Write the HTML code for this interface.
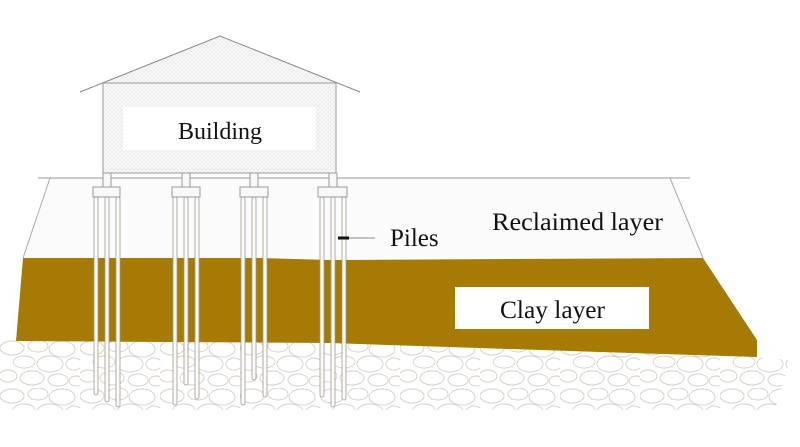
<!DOCTYPE html>
<html><head><meta charset="utf-8"><style>
html,body{margin:0;padding:0;background:#fff;}
svg{display:block;}
text{font-family:"Liberation Serif",serif;fill:#111;}
</style></head><body>
<svg width="800" height="447" viewBox="0 0 800 447" xmlns="http://www.w3.org/2000/svg">
<defs>
<pattern id="rock" x="0" y="340" width="80" height="48" patternUnits="userSpaceOnUse">
<g fill="none" stroke="#d6cec4" stroke-width="0.9">
<ellipse cx="12" cy="8" rx="12" ry="7"/>
<ellipse cx="38" cy="6" rx="10" ry="6"/>
<ellipse cx="62" cy="9" rx="13" ry="8"/>
<ellipse cx="24" cy="22" rx="11" ry="6"/>
<ellipse cx="50" cy="24" rx="13" ry="8"/>
<ellipse cx="74" cy="24" rx="8" ry="6"/>
<ellipse cx="8" cy="36" rx="9" ry="6"/>
<ellipse cx="32" cy="38" rx="12" ry="7"/>
<ellipse cx="58" cy="40" rx="10" ry="6"/>
<ellipse cx="76" cy="41" rx="7" ry="5"/>
</g>
</pattern>
<pattern id="hatch" width="4" height="4" patternUnits="userSpaceOnUse">
<rect width="4" height="4" fill="#fafafa"/>
<path d="M0 4L4 0M0 0L4 4" stroke="#e6e6e6" stroke-width="0.6"/>
</pattern>
</defs>
<path d="M0 340 L330 343 L600 352 L757 357 L790 360 L775 410 L0 410 Z" fill="url(#rock)"/>
<polygon points="50,178 670,178 703,258 23,258" fill="#fbfbfb"/>
<line x1="38" y1="178" x2="690" y2="178" stroke="#999" stroke-width="1"/>
<line x1="50" y1="178" x2="23" y2="258" stroke="#aaa" stroke-width="1"/>
<line x1="670" y1="178" x2="703" y2="258" stroke="#aaa" stroke-width="1"/>
<polygon points="23,258 260,258 330,260 703,258 757,340 757,357 600,352 330,343 16,341" fill="#a57a05"/>
<polygon points="80,92 220,36 360,92 336,83 103,83" fill="url(#hatch)"/>
<polyline points="80,92 220,36 360,92" fill="none" stroke="#888" stroke-width="1"/>
<rect x="103" y="83" width="233" height="90" fill="url(#hatch)" stroke="#999" stroke-width="1"/>
<rect x="123" y="107" width="193" height="43" fill="#fff"/>
<text x="220" y="139" font-size="24" text-anchor="middle">Building</text>
<g fill="#f8f8f8" stroke="#999" stroke-width="1">
<rect x="103" y="173" width="8" height="14"/>
<rect x="182" y="173" width="8" height="14"/>
<rect x="250" y="173" width="8" height="14"/>
<rect x="329" y="173" width="8" height="14"/>
<rect x="93" y="187" width="27" height="10"/>
<rect x="172" y="187" width="28" height="10"/>
<rect x="240" y="187" width="28" height="10"/>
<rect x="318" y="187" width="29" height="10"/>
</g>
<g fill="#fdfbf2" stroke="#999" stroke-width="0.8">
<rect x="94" y="197" width="4" height="198" rx="2"/>
<rect x="105" y="197" width="4" height="205" rx="2"/>
<rect x="116" y="197" width="4" height="210" rx="2"/>
<rect x="173" y="197" width="4" height="208" rx="2"/>
<rect x="184" y="197" width="4" height="188" rx="2"/>
<rect x="195" y="197" width="4" height="202" rx="2"/>
<rect x="241" y="197" width="4" height="208" rx="2"/>
<rect x="252" y="197" width="4" height="183" rx="2"/>
<rect x="263" y="197" width="4" height="200" rx="2"/>
<rect x="320" y="197" width="4" height="200" rx="2"/>
<rect x="331" y="197" width="4" height="210" rx="2"/>
<rect x="342" y="197" width="4" height="203" rx="2"/>
</g>
<line x1="340" y1="238" x2="375" y2="238" stroke="#888" stroke-width="1"/>
<rect x="338" y="236.5" width="11" height="3" fill="#111"/>
<text x="390" y="246" font-size="25">Piles</text>
<text x="492" y="230" font-size="25" textLength="171" lengthAdjust="spacingAndGlyphs">Reclaimed layer</text>
<rect x="455" y="287" width="194" height="42" fill="#fff"/>
<text x="500" y="318" font-size="25" textLength="105" lengthAdjust="spacingAndGlyphs">Clay layer</text>
</svg>
</body></html>
